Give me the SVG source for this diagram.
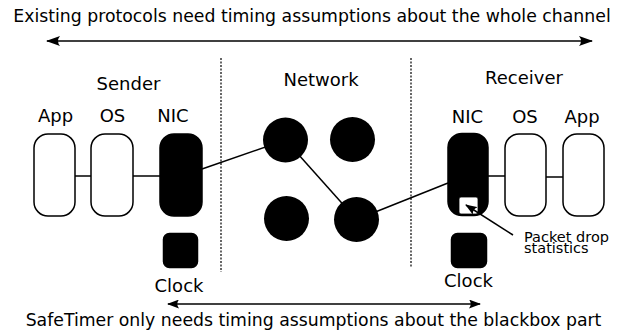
<svg xmlns="http://www.w3.org/2000/svg" width="623" height="334" viewBox="0 0 623 334">
<style>
text{font-family:"DejaVu Sans",sans-serif;fill:#000}
.lbl{font-size:18px;text-anchor:middle}
.cap{font-size:17.3px;text-anchor:middle}
.small{font-size:14.5px}
.wbox{fill:#fff;stroke:#000;stroke-width:1.5}
.bbox{fill:#000;stroke:#000;stroke-width:1.5}
.conn{stroke:#000;stroke-width:1.5;fill:none}
.div{stroke:#000;stroke-width:1.2;stroke-dasharray:2 1.5;fill:none}
.node{fill:#000}
</style>
<defs>
<marker id="ah" markerUnits="userSpaceOnUse" viewBox="0 0 14 10" refX="13" refY="5" markerWidth="14" markerHeight="10" orient="auto-start-reverse">
<path d="M0,0 L14,5 L0,10 Q4,5 0,0 Z" fill="#000"/>
</marker>
<marker id="ahs" markerUnits="userSpaceOnUse" viewBox="0 0 12 9" refX="11" refY="4.5" markerWidth="12" markerHeight="9" orient="auto-start-reverse">
<path d="M0,0 L12,4.5 L0,9 Q3.5,4.5 0,0 Z" fill="#000"/>
</marker>
</defs>

<g id="top-caption">
<text class="cap" x="312" y="22">Existing protocols need timing assumptions about the whole channel</text>
</g>
<g id="bottom-caption">
<text class="cap" x="313.5" y="326">SafeTimer only needs timing assumptions about the blackbox part</text>
</g>

<g id="connectors">
<line class="conn" x1="47" y1="41" x2="592" y2="41" stroke-width="2" marker-start="url(#ah)" marker-end="url(#ah)"/>
<line class="conn" x1="168" y1="304" x2="480" y2="304" marker-start="url(#ahs)" marker-end="url(#ahs)"/>
<line class="div" x1="221" y1="58" x2="221" y2="272"/>
<line class="div" x1="411" y1="58" x2="411" y2="268"/>
<line class="conn" x1="75" y1="176" x2="91" y2="176"/>
<line class="conn" x1="133" y1="176" x2="160" y2="176"/>
<line class="conn" x1="202" y1="169" x2="285.5" y2="140"/>
<line class="conn" x1="285.5" y1="140" x2="356.5" y2="219.5"/>
<line class="conn" x1="356.5" y1="219.5" x2="448" y2="183"/>
<line class="conn" x1="488" y1="176" x2="505" y2="176"/>
<line class="conn" x1="546" y1="177" x2="563" y2="177"/>
</g>

<g id="sender">
<text class="lbl" x="128.5" y="90">Sender</text>
</g>
<g id="sender-app">
<text class="lbl" x="55.5" y="122">App</text>
<rect class="wbox" x="34" y="134" width="41" height="82" rx="14"/>
</g>
<g id="sender-os">
<text class="lbl" x="112.5" y="122">OS</text>
<rect class="wbox" x="91" y="134" width="42" height="82" rx="14"/>
</g>
<g id="sender-nic">
<text class="lbl" x="173" y="122">NIC</text>
<rect class="bbox" x="160" y="134" width="42" height="82" rx="14"/>
</g>
<g id="sender-clock">
<rect class="bbox" x="163.5" y="233.5" width="34" height="34" rx="6"/>
<text class="lbl" x="179" y="292">Clock</text>
</g>

<g id="network">
<text class="lbl" x="321" y="86">Network</text>
</g>
<g id="n1"><circle class="node" cx="285.5" cy="140" r="22.5"/></g>
<g id="n2"><circle class="node" cx="352.5" cy="139.5" r="22.5"/></g>
<g id="n3"><circle class="node" cx="286.5" cy="218.5" r="22.5"/></g>
<g id="n4"><circle class="node" cx="356.5" cy="219.5" r="22.5"/></g>

<g id="receiver">
<text class="lbl" x="524" y="84">Receiver</text>
</g>
<g id="receiver-nic">
<text class="lbl" x="467.5" y="123">NIC</text>
<rect class="bbox" x="448" y="133.5" width="40" height="82" rx="14"/>
<rect x="459" y="197" width="19" height="17" rx="2" fill="#fff" stroke="#000" stroke-width="0.8"/>
</g>
<g id="receiver-os">
<text class="lbl" x="525" y="123">OS</text>
<rect class="wbox" x="505" y="134" width="41" height="82" rx="14"/>
</g>
<g id="receiver-app">
<text class="lbl" x="582" y="123">App</text>
<rect class="wbox" x="563" y="134" width="41" height="82" rx="14"/>
</g>
<g id="receiver-clock">
<rect class="bbox" x="451.5" y="233.5" width="35" height="34" rx="6"/>
<text class="lbl" x="468.5" y="287">Clock</text>
</g>

<g id="packet-drop">
<line class="conn" x1="513" y1="235" x2="466" y2="205" marker-end="url(#ahs)"/>
<text class="small" x="524" y="242">Packet drop</text>
<text class="small" x="524" y="253">statistics</text>
</g>
</svg>
